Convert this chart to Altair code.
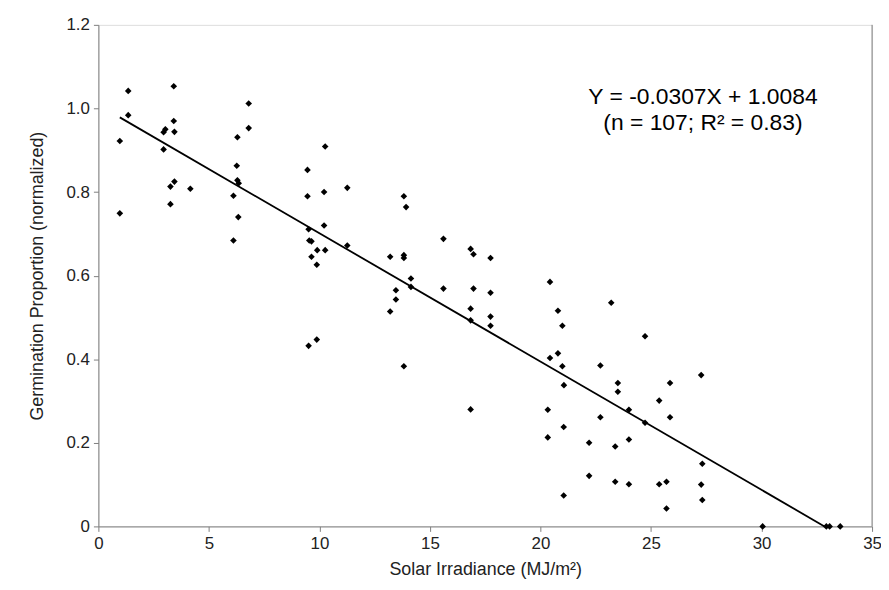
import altair as alt
import pandas as pd

# Scatter data (solar irradiance MJ/m^2, normalized germination)
xs = [1.35, 1.35, 0.97, 0.97, 3.41, 3.41, 3.44, 2.95, 3.03, 2.95, 3.44, 3.26, 4.16, 3.26,
      6.80, 6.80, 6.29, 6.26, 6.29, 6.35, 6.11, 6.33, 6.11,
      10.26, 9.46, 9.46, 10.21, 11.26, 13.82, 13.92, 10.21, 9.51, 9.54, 9.64, 9.90, 10.26,
      11.26, 9.64, 13.20, 13.82, 13.82, 15.61, 16.84, 16.97, 9.88, 9.88, 9.51,
      17.74, 14.14, 14.14, 13.46, 13.46, 13.20, 15.61, 16.97, 17.74, 16.84, 16.84, 17.74,
      17.74, 13.82, 16.84,
      20.43, 20.79, 20.99, 20.43, 20.79, 20.99, 21.06, 23.20,
      24.73, 22.71, 23.50, 23.50, 25.86, 25.37, 25.86, 24.00, 24.73, 20.33, 21.05, 20.33,
      22.71, 22.20, 23.38, 24.00, 22.20, 23.38, 24.00, 25.37, 25.70, 25.70, 21.05,
      27.27, 27.32, 27.27, 27.32, 30.05, 32.93, 33.08, 33.56]
ys = [1.042, 0.984, 0.922, 0.749, 1.053, 0.970, 0.944, 0.943, 0.950, 0.902, 0.825, 0.813, 0.808, 0.771,
      1.012, 0.953, 0.931, 0.863, 0.828, 0.821, 0.791, 0.740, 0.684,
      0.909, 0.853, 0.790, 0.800, 0.810, 0.790, 0.764, 0.720, 0.711, 0.684, 0.682, 0.661, 0.661,
      0.672, 0.645, 0.645, 0.649, 0.642, 0.688, 0.664, 0.651, 0.626, 0.447, 0.432,
      0.642, 0.593, 0.573, 0.565, 0.543, 0.514, 0.569, 0.569, 0.559, 0.521, 0.493, 0.502,
      0.480, 0.383, 0.280,
      0.585, 0.516, 0.480, 0.403, 0.414, 0.383, 0.338, 0.535,
      0.455, 0.385, 0.343, 0.322, 0.343, 0.301, 0.261, 0.279, 0.248, 0.279, 0.238, 0.213,
      0.261, 0.200, 0.191, 0.208, 0.121, 0.107, 0.101, 0.101, 0.107, 0.043, 0.074,
      0.362, 0.150, 0.100, 0.063, 0.0, 0.0, 0.0, 0.0]

# Regression line  Y = -0.0307X + 1.0084
fit_x = [0.97, 32.85]
slope = -0.0307
intercept = 1.0084
fit_y = [slope * v + intercept for v in fit_x]

note_lines = ["Y = -0.0307X + 1.0084", "(n = 107; R\u00b2 = 0.83)"]
note_x = [27.35, 27.35]
note_y = [1.027, 0.964]

y_ticks = [0, 0.2, 0.4, 0.6, 0.8, 1.0, 1.2]
x_ticks = [0, 5, 10, 15, 20, 25, 30, 35]

pts = pd.DataFrame({"x": xs, "y": ys})
fit = pd.DataFrame({"x": fit_x, "y": fit_y})
notes = pd.DataFrame({"t": note_lines, "x": note_x, "y": note_y})

FONT = "Liberation Sans"
AX = "#7f7f7f"

xscale = alt.Scale(domain=[0, 35], nice=False, zero=False)
yscale = alt.Scale(domain=[0, 1.2], nice=False)

xaxis = alt.Axis(values=x_ticks, title="Solar Irradiance (MJ/m\u00b2)", grid=False,
                 domainColor=AX, tickColor=AX, tickSize=5, labelFont=FONT, labelFontSize=17,
                 labelColor="#222222", titleFont=FONT, titleFontSize=18, titleFontWeight="normal",
                 titleColor="#222222", labelPadding=4, titlePadding=9, labelFlush=False)
yaxis = alt.Axis(values=y_ticks, title="Germination Proportion (normalized)", grid=False,
                 domainColor=AX, tickColor=AX, tickSize=5, labelFont=FONT, labelFontSize=17,
                 labelColor="#222222", titleFont=FONT, titleFontSize=18, titleFontWeight="normal",
                 titleColor="#222222", labelPadding=4, titlePadding=20,
                 labelExpr="datum.value == 0 ? '0' : format(datum.value, '.1f')")

points = alt.Chart(pts).mark_point(shape="diamond", filled=True, color="black", size=44, opacity=1).encode(
    x=alt.X("x:Q", scale=xscale, axis=xaxis),
    y=alt.Y("y:Q", scale=yscale, axis=yaxis),
)

line = alt.Chart(fit).mark_line(color="black", strokeWidth=1.8).encode(
    x=alt.X("x:Q", scale=xscale),
    y=alt.Y("y:Q", scale=yscale),
)

right = alt.Chart(pd.DataFrame({"x": [35]})).mark_rule(color=AX, strokeWidth=1).encode(
    x=alt.X("x:Q", scale=xscale),
    y=alt.value(0),
    y2=alt.value(505),
)

text = alt.Chart(notes).mark_text(font=FONT, fontSize=23, color="black", align="center").encode(
    x=alt.X("x:Q", scale=xscale),
    y=alt.Y("y:Q", scale=yscale),
    text="t:N",
)

chart = alt.layer(line, points, right, text).properties(
    width=779, height=505,
    autosize=alt.AutoSizeParams(type="none"),
    padding={"left": 91, "top": 15, "right": 9, "bottom": 54},
).configure_view(stroke=None).configure(background="white")

chart.save("out.html", embed_options={"renderer": "svg", "actions": False})
